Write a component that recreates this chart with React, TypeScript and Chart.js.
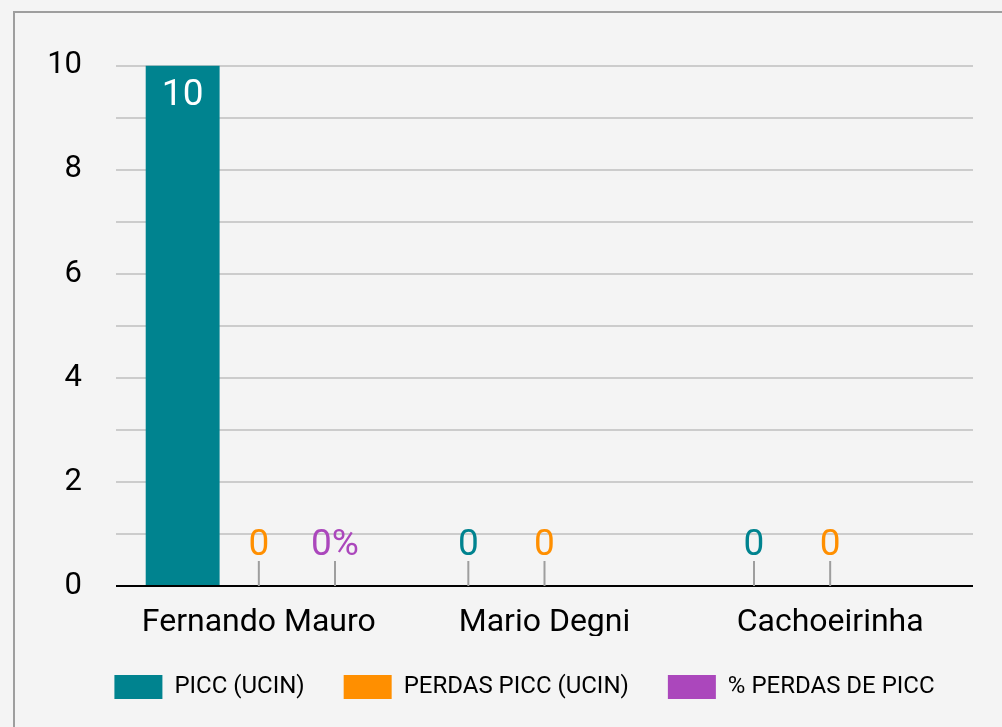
import React, { useEffect, useRef } from 'react';
import { Chart, registerables } from 'chart.js';

Chart.register(...registerables);

const categories = ['Fernando Mauro', 'Mario Degni', 'Cachoeirinha'];
const piccUcin = [10, 0, 0];
const perdasPicc = [0, 0, 0];
const pctPerdas: (number | null)[] = [0, null, null];
const seriesLabels = ['PICC (UCIN)', 'PERDAS PICC (UCIN)', '% PERDAS DE PICC'];
const seriesColors = ['#00838f', '#ff8f00', '#ab47bc'];
const seriesSuffix = ['', '', '%'];
const yLabelTicks = [0, 2, 4, 6, 8, 10];

const FONT = 'Roboto';

const labelPlugin = {
  id: 'barValueLabels',
  afterDatasetsDraw(chart: any) {
    const ctx = chart.ctx;
    const base = chart.scales.y.getPixelForValue(0);
    chart.data.datasets.forEach((ds: any, di: number) => {
      const meta = chart.getDatasetMeta(di);
      meta.data.forEach((el: any, i: number) => {
        const v = ds.data[i];
        if (v === null || v === undefined) return;
        const text = `${v}${seriesSuffix[di]}`;
        ctx.save();
        ctx.font = `37px ${FONT}`;
        ctx.textAlign = 'center';
        ctx.textBaseline = 'alphabetic';
        if (v > 0) {
          ctx.fillStyle = '#ffffff';
          ctx.fillText(text, el.x, el.y + 39);
        } else {
          ctx.strokeStyle = '#9e9e9e';
          ctx.lineWidth = 2;
          ctx.beginPath();
          ctx.moveTo(el.x, base);
          ctx.lineTo(el.x, base - 25);
          ctx.stroke();
          ctx.fillStyle = seriesColors[di];
          ctx.fillText(text, el.x, base - 31);
        }
        ctx.restore();
      });
    });
  },
};

export default function App() {
  const ref = useRef<HTMLCanvasElement | null>(null);

  useEffect(() => {
    if (!ref.current) return;
    const seriesData = [piccUcin, perdasPicc, pctPerdas];
    const chart = new Chart(ref.current, {
      type: 'bar',
      data: {
        labels: categories,
        datasets: seriesData.map((d, i) => ({
          label: seriesLabels[i],
          data: d,
          backgroundColor: seriesColors[i],
          borderWidth: 0,
          categoryPercentage: 0.8,
          barPercentage: 0.97,
        })),
      },
      options: {
        animation: false,
        responsive: false,
        maintainAspectRatio: false,
        layout: { padding: { top: 51, bottom: 44, left: 0, right: 0 } },
        plugins: {
          legend: {
            position: 'bottom',
            labels: {
              boxWidth: 48,
              boxHeight: 24,
              padding: 39,
              color: '#000',
              font: { family: FONT, size: 24 },
            },
          },
          tooltip: { enabled: false },
        },
        scales: {
          x: {
            grid: { display: false, drawTicks: false },
            border: { display: false },
            ticks: { color: '#000', font: { family: FONT, size: 32 }, padding: 18 },
            afterFit: (s: any) => { s.height = 50; },
          },
          y: {
            min: 0,
            max: 10,
            ticks: {
              stepSize: 1,
              autoSkip: false,
              color: '#000',
              font: { family: FONT, size: 31 },
              padding: 34,
              callback: (v: any) => (yLabelTicks.includes(Number(v)) ? String(v) : ''),
            },
            grid: {
              color: (c: any) => (c.tick && c.tick.value === 0 ? '#000' : '#cccccc'),
              lineWidth: 2,
              drawTicks: false,
            },
            border: { display: false },
            afterFit: (s: any) => { s.width = 101; },
          },
          yr: {
            type: 'linear',
            position: 'right',
            display: true,
            grid: { display: false, drawTicks: false },
            border: { display: false },
            ticks: { display: false },
            afterFit: (s: any) => { s.width = 61; },
          },
        },
      } as any,
      plugins: [labelPlugin],
    });
    return () => chart.destroy();
  }, []);

  return (
    <div
      style={{
        position: 'fixed',
        left: 0,
        top: 0,
        width: 1002,
        height: 727,
        overflow: 'hidden',
        background: '#f4f4f4',
      }}
    >
      <div
        style={{
          position: 'absolute',
          left: 13,
          top: 11,
          width: 1019,
          height: 740,
          border: '2px solid #9e9e9e',
        }}
      >
        <canvas ref={ref} width={1019} height={740} style={{ display: 'block', width: 1019, height: 740 }} />
      </div>
    </div>
  );
}
